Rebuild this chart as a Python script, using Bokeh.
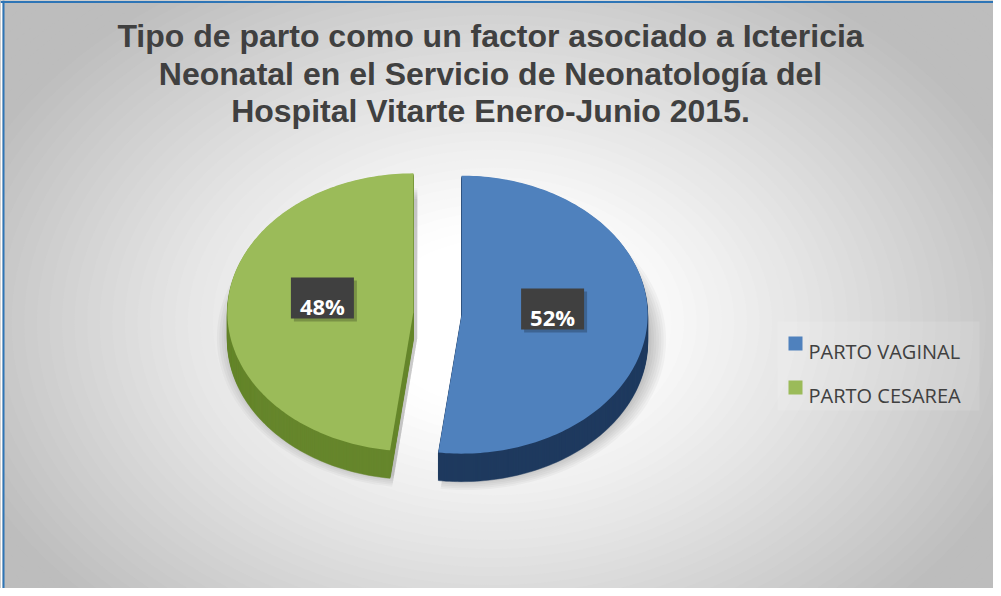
import numpy as np
from bokeh.plotting import figure
from bokeh.models import Range1d, Span
from bokeh.core.properties import value
from bokeh.embed import file_html
from bokeh.resources import INLINE

# ---- data ----
title_lines = ["Tipo de parto como un factor asociado a Ictericia",
               "Neonatal en el Servicio de Neonatología del",
               "Hospital Vitarte Enero-Junio 2015."]
categories = ["PARTO VAGINAL", "PARTO CESAREA"]
values = [52, 48]
top_colors = ["#4F81BD", "#9BBB59"]
side_colors = ["#1F3A5F", "#66862C"]

W, H = 993, 588
p = figure(width=W, height=H, x_range=Range1d(0, W), y_range=Range1d(H, 0),
           output_backend="svg", toolbar_location=None, min_border=0,
           x_axis_type=None, y_axis_type=None)
p.grid.visible = False
p.outline_line_color = None
p.border_fill_color = "white"

# ---- background radial gradient ----
gcx, gcy, gax, gay = 492, 322, 560, 400
ts = np.linspace(1.6, 0.05, 70)
def gshade(t):
    g = 255 - 66 * np.clip((t - 0.22) / 0.8, 0, 1) ** 1.1
    g = int(round(g))
    return "#%02x%02x%02x" % (g, g, g)
p.background_fill_color = gshade(1.7)
p.ellipse(x=[gcx] * len(ts), y=[gcy] * len(ts), width=list(2 * gax * ts),
          height=list(2 * gay * ts), fill_color=[gshade(t) for t in ts],
          line_color=None)

# white margin strips and blue frame edges
p.quad(left=[0, 0], right=[2, W], top=[0, 0], bottom=[H, 0.6],
       fill_color="white", line_color=None)
p.add_layout(Span(location=3, dimension="height", line_color="#2E75B6", line_width=2))
p.add_layout(Span(location=1.6, dimension="width", line_color="#2E75B6", line_width=2))

# ---- title ----
p.text(x=[490] * len(title_lines), y=[35, 73, 110], text=title_lines,
       text_align="center", text_baseline="alphabetic",
       text_font=value("Liberation Sans"), text_font_style="bold",
       text_font_size="32px", text_color="#404040")

# ---- 3D exploded pie ----
cx, cy = 437, 313
rx, ry = 186, 139
depth = 28
explode = 0.13
total = float(sum(values))
start = 0.0
shadow_xs, shadow_ys = [], []
side_xs, side_ys, side_cols = [], [], []
top_xs, top_ys = [], []
label_x, label_y, label_txt = [], [], []
for v, tc, sc in zip(values, top_colors, side_colors):
    a0 = start / total * 2 * np.pi
    a1 = (start + v) / total * 2 * np.pi
    start += v
    bis = (a0 + a1) / 2
    ox = explode * rx * np.sin(bis)
    oy = -explode * ry * np.cos(bis)
    th = np.linspace(a0, a1, 160)
    px = np.concatenate([[cx + ox], cx + ox + rx * np.sin(th)])
    py = np.concatenate([[cy + oy], cy + oy - ry * np.cos(th)])
    # soft shadow
    mx, my = cx + ox, cy + oy
    for k in range(7):
        s = 1.0 + 0.013 * k
        shadow_xs.append(list(mx + s * (px - mx) + 4))
        shadow_ys.append(list(my + s * (py - my) + depth * 0.7 + 6))
    for d in range(depth, 0, -1):
        side_xs.append(list(px))
        side_ys.append(list(py + d))
        side_cols.append(sc)
    top_xs.append(list(px))
    top_ys.append(list(py))
    label_x.append(cx + ox + 0.49 * rx * np.sin(bis))
    label_y.append(cy + oy - 0.49 * ry * np.cos(bis) - 10)
    label_txt.append("%d%%" % round(v / total * 100))

p.patches(xs=shadow_xs, ys=shadow_ys, fill_color="black", fill_alpha=0.03, line_color=None)
p.patches(xs=side_xs, ys=side_ys, fill_color=side_cols, line_color=side_cols, line_width=0.5)
p.patches(xs=top_xs, ys=top_ys, fill_color=top_colors, line_color=None)

# data labels
p.rect(x=[x + 3 for x in label_x], y=[y + 3 for y in label_y], width=63, height=41,
       width_units="screen", height_units="screen", fill_color="black",
       fill_alpha=0.22, line_color=None)
p.rect(x=label_x, y=label_y, width=63, height=41, width_units="screen",
       height_units="screen", fill_color="#404040", line_color=None)
p.text(x=label_x, y=[y + 8 for y in label_y], text=label_txt, text_align="center",
       text_baseline="alphabetic", text_font=value("Open Sans"),
       text_font_style="bold", text_font_size="22px", text_color="white")

# ---- legend ----
p.quad(left=[777], right=[979], top=[321], bottom=[410], fill_color="white",
       fill_alpha=0.12, line_color=None)
n = len(categories)
leg_y = [343 + 44 * i for i in range(n)]
p.rect(x=[795] * n, y=leg_y, width=14, height=14, width_units="screen",
       height_units="screen", fill_color=top_colors, line_color=None)
p.text(x=[808] * n, y=[yy + 7.5 for yy in leg_y], text=categories,
       text_align="left", text_baseline="alphabetic",
       text_font=value("Open Sans"), text_font_size="20px", text_color="#404040")

open("out.html", "w").write(file_html(p, INLINE))
